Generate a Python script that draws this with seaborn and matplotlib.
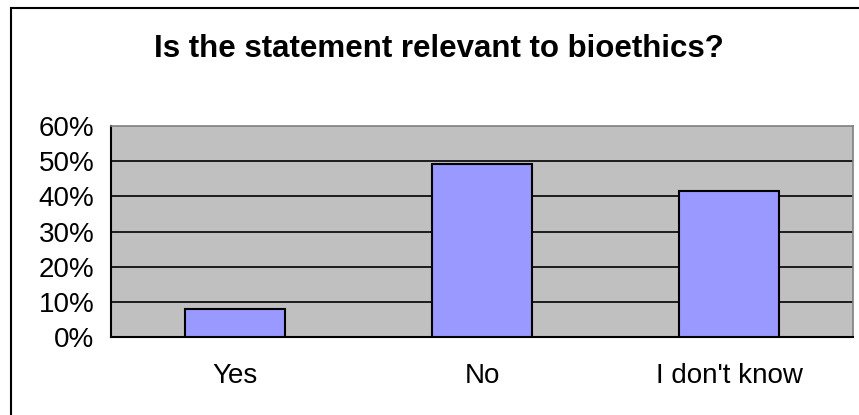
import matplotlib
matplotlib.use("Agg")
import matplotlib.pyplot as plt
import matplotlib.ticker as mticker
from matplotlib.patches import Rectangle
import seaborn as sns
import pandas as pd

categories = ["Yes", "No", "I don't know"]
shares = [0.08, 0.493, 0.414]
title = "Is the statement relevant to bioethics?"

sns.set_style("white")
plt.rcParams['font.family'] = ['Liberation Sans', 'DejaVu Sans']
plt.rcParams['text.color'] = 'black'
plt.rcParams['xtick.labelcolor'] = 'black'
plt.rcParams['ytick.labelcolor'] = 'black'

df = pd.DataFrame({'answer': categories, 'share': shares})

fig = plt.figure(figsize=(8.59, 4.15), dpi=100)
ax = fig.add_axes([111 / 859, 1 - 337 / 415, 742 / 859, 211 / 415])
ax.set_facecolor('#C0C0C0')

sns.barplot(data=df, x='answer', y='share', color='#9999FF', edgecolor='black',
            linewidth=1.5, width=0.404, saturation=1, ax=ax, zorder=3)

ax.set_ylim(0, 0.6)
ax.set_xlim(-0.5, len(categories) - 0.5)
ax.yaxis.set_major_locator(mticker.MultipleLocator(0.1))
ax.yaxis.set_major_formatter(mticker.PercentFormatter(1.0, decimals=0))
for v in [0.1, 0.2, 0.3, 0.4, 0.5]:
    ax.axhline(v, color='black', linewidth=1.2, zorder=1)

ax.set_xlabel('')
ax.set_ylabel('')

# category ticks sit between groups, labels centered
ax.set_xticks([i - 0.5 for i in range(len(categories) + 1)])
ax.set_xticklabels([])
ax.set_xticks(range(len(categories)), minor=True)
ax.set_xticklabels(categories, minor=True)
ax.tick_params(axis='x', which='major', direction='out', length=8, width=1.2, color='black')
ax.tick_params(axis='x', which='minor', length=0, pad=19, labelsize=20)
ax.tick_params(axis='y', direction='out', length=8, width=1.2, color='black', labelsize=20, pad=4)

for side in ['top', 'right']:
    ax.spines[side].set_color('#808080')
    ax.spines[side].set_linewidth(1.2)
for side in ['left', 'bottom']:
    ax.spines[side].set_color('black')
    ax.spines[side].set_linewidth(1.5)

fig.text(439 / 859, 1 - 57 / 415, title, ha='center', va='baseline',
         fontsize=22.5, fontweight='bold', color='black')

# outer chart border (right and bottom run off the image)
fig.patches.append(Rectangle((11 / 859, -0.05), 1.1, 1 - 8 / 415 + 0.05,
                             transform=fig.transFigure, fill=False,
                             edgecolor='black', linewidth=1.5))

fig.savefig('out.png', dpi=100)
